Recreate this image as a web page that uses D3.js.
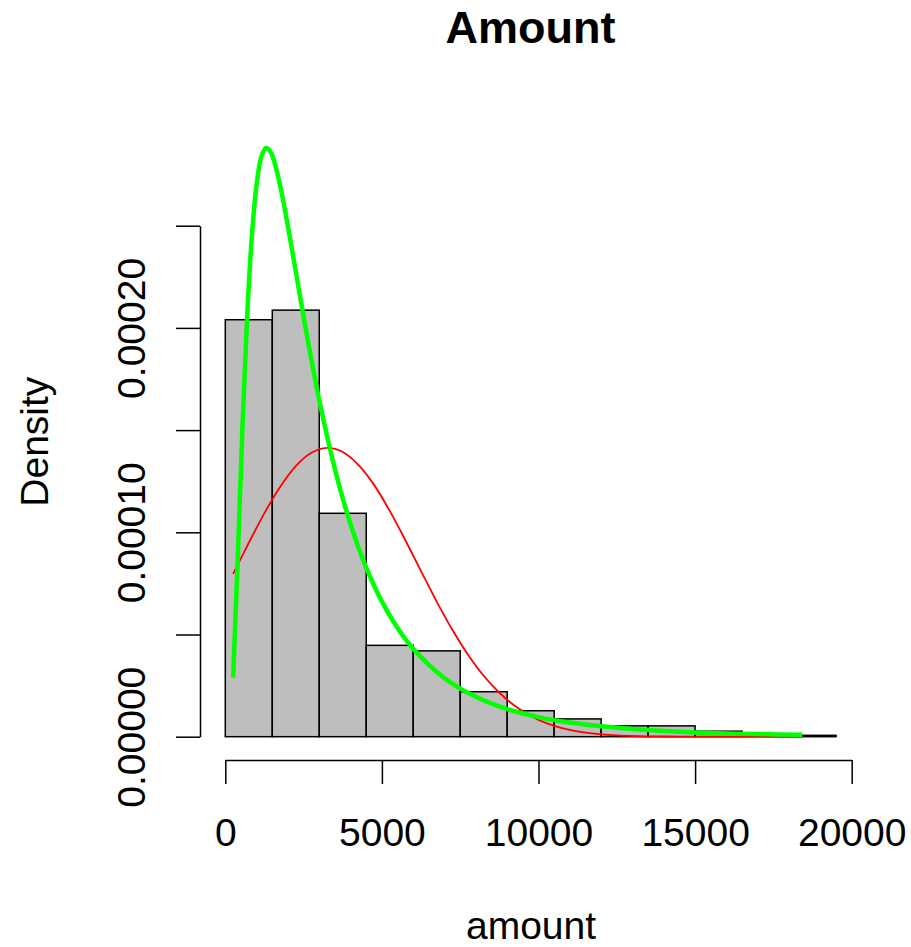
<!DOCTYPE html>
<html><head><meta charset="utf-8">
<script src="https://cdn.jsdelivr.net/npm/d3@7"></script>
<style>
html,body{margin:0;padding:0;background:#fff;}
text{font-family:"Liberation Sans",Arial,Helvetica,sans-serif;fill:#000;}
</style></head>
<body>
<svg id="chart" width="911" height="947"></svg>
<script>
// Histogram bins (amount) and density heights
const binStarts = [0,1500,3000,4500,6000,7500,9000,10500,12000,13500,15000,16500,18000];
const binWidth = 1500;
const densities = [0.000204,0.0002087,0.0001093,0.0000447,0.000042,0.000022,0.0000127,0.0000087,0.0000053,0.0000053,0.0000027,0.00000067,0.00000067];

// Red curve (normal fit) points
const redX = [250,750,1250,1750,2250,2750,3250,3750,4250,4750,5250,5750,6250,6750,7250,7750,8250,8750,9250,9750,10250,10750,11500,12500,14000,16000,18424];
const redY = [0.0000797,0.0000948,0.0001094,0.0001222,0.0001324,0.0001389,0.0001413,0.0001393,0.000133,0.0001232,0.0001105,0.0000961,0.000081,0.0000661,0.0000523,0.0000401,0.0000298,0.0000215,0.000015,0.0000101,0.0000066,0.0000042,0.000002,0.00000067,0.0000001,0.0000000,0.0000000];

// Green curve (log-normal fit) points
const greenX = [250,400,550,700,850,1000,1150,1300,1450,1600,1800,2000,2250,2500,2750,3000,3500,4000,4500,5000,5500,6000,7000,8000,9000,10000,11000,12000,13000,14000,15000,16000,17000,18424];
const greenY = [0.0000289,0.0000882,0.0001523,0.0002062,0.0002452,0.0002702,0.0002836,0.000288,0.000286,0.0002794,0.000266,0.0002497,0.0002276,0.0002054,0.0001843,0.0001647,0.0001309,0.0001039,0.0000827,0.0000661,0.0000532,0.000043,0.0000286,0.0000195,0.0000135,0.0000096,0.0000069,0.0000051,0.0000038,0.0000028,0.0000021,0.0000016,0.0000013,0.0000009];

const xTicks = [0,5000,10000,15000,20000];
const yTicks = [0,0.00005,0.0001,0.00015,0.0002,0.00025];
const yTickLabels = ["0.00000","","0.00010","","0.00020",""];
const title = "Amount", xLabel = "amount", yLabel = "Density";

const svg = d3.select("#chart");
const x = d3.scaleLinear().domain([0,20000]).range([225.3,851.7]);
const y = d3.scaleLinear().domain([0,0.00025]).range([736.7,225.7]);

// bars
svg.append("g").selectAll("rect").data(binStarts).join("rect")
  .attr("x", d => x(d))
  .attr("width", d => x(d+binWidth)-x(d))
  .attr("y", (d,i) => y(densities[i]))
  .attr("height", (d,i) => y(0)-y(densities[i]))
  .attr("fill","#BEBEBE").attr("stroke","#000").attr("stroke-width",1.5);

// curves
const line = d3.line().x(d=>x(d[0])).y(d=>y(d[1])).curve(d3.curveCatmullRom);
svg.append("path").attr("d", line(redX.map((v,i)=>[v,redY[i]])))
  .attr("fill","none").attr("stroke","#FF0000").attr("stroke-width",1.8);
svg.append("path").attr("d", line(greenX.map((v,i)=>[v,greenY[i]])))
  .attr("fill","none").attr("stroke","#00FF00").attr("stroke-width",4.5).attr("stroke-linejoin","round");

// x axis
const xa = svg.append("g").attr("transform","translate(0,760)");
xa.call(d3.axisBottom(x).tickValues(xTicks).tickSize(24).tickSizeOuter(0).tickFormat(d3.format("d")));
xa.select(".domain").attr("stroke-width",1.5);
xa.selectAll(".tick line").attr("stroke-width",1.5);
xa.selectAll(".tick text").attr("font-size",39).attr("dy",0).attr("y",86)
  .style("font-family","'Liberation Sans',Arial,sans-serif");

// y axis
const ya = svg.append("g").attr("transform","translate(200,0)");
ya.call(d3.axisLeft(y).tickValues(yTicks).tickSize(24).tickSizeOuter(0).tickFormat((d,i)=>yTickLabels[i]));
ya.select(".domain").attr("stroke-width",1.5);
ya.selectAll(".tick line").attr("stroke-width",1.5);
ya.selectAll(".tick text").attr("font-size",39).attr("dy",0).attr("x",0).attr("y",0)
  .attr("text-anchor","middle").attr("transform","translate(-55,0) rotate(-90)")
  .style("font-family","'Liberation Sans',Arial,sans-serif");

// titles
svg.append("text").attr("x",530.5).attr("y",43).attr("text-anchor","middle")
  .attr("font-size",45).attr("font-weight","bold").text(title);
svg.append("text").attr("x",531).attr("y",939).attr("text-anchor","middle")
  .attr("font-size",39).text(xLabel);
svg.append("text").attr("transform","translate(48,441.7) rotate(-90)").attr("text-anchor","middle")
  .attr("font-size",39).text(yLabel);
</script>
</body></html>
